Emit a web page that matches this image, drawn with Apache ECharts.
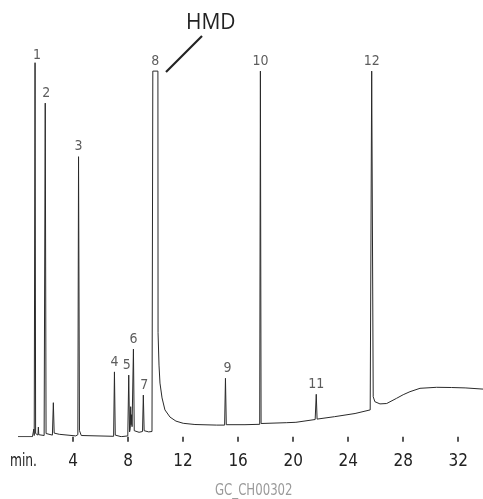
<!DOCTYPE html>
<html>
<head>
<meta charset="utf-8">
<script src="https://cdn.jsdelivr.net/npm/echarts@6/dist/echarts.min.js"></script>
<style>
  html, body { margin: 0; padding: 0; background: #fff; }
  #main { width: 483px; height: 499px; }
</style>
</head>
<body>
<div id="main"></div>
<script>
// retention time (min) / detector signal
var traceTimes = [0.0, 1.05, 1.12, 1.15, 1.18, 1.21, 1.24, 1.28, 1.45, 1.48, 1.51, 1.9, 1.98, 2.04, 2.5, 2.57, 2.63, 3.0,
  4.2, 4.35, 4.40, 4.47, 4.6, 6.95, 7.01, 7.07, 7.5, 7.98, 8.05, 8.11, 8.16, 8.19, 8.22, 8.26, 8.29, 8.34, 8.39, 8.45,
  8.8, 9.05, 9.11, 9.17, 9.5, 9.74, 9.80, 10.17, 10.18, 10.25, 10.32, 10.47, 10.68, 11.05, 11.48, 12.01, 12.86, 14.44,
  15.02, 15.08, 15.14, 16.5, 17.57, 17.62, 17.67, 19.5, 20.2, 20.3, 21.6, 21.68, 21.74, 23.0, 24.5, 25.6, 25.71, 25.82,
  25.94, 26.31, 26.8, 27.52, 28.0, 28.49, 29.22, 30.43, 31.5, 32.5, 33.8];
var traceValues = [0, 0, 0.3, 1.9, 0.3, 0.5, 93.5, 0.8, 0.4, 2.4, 0.5, 0.3, 83.4, 0.8, 0.4, 8.5, 0.9, 0.6,
  0.2, 0.5, 70.0, 1.5, 0.3, 0.1, 16.2, 0.4, 0.0, 0.2, 15.4, 1.2, 2.0, 7.5, 3.0, 5.5, 2.5, 2.0, 21.9, 1.5,
  1.1, 1.3, 10.4, 1.5, 1.2, 1.3, 91.4, 91.4, 26.0, 17.9, 13.4, 9.7, 6.7, 4.9, 3.9, 3.35, 3.05, 2.9,
  2.9, 14.6, 3.0, 3.0, 3.1, 91.4, 3.3, 3.5, 3.6, 4.0, 4.3, 10.6, 4.4, 5.0, 5.8, 6.7, 91.4, 10.0,
  8.75, 8.2, 8.3, 9.6, 10.5, 11.25, 12.1, 12.35, 12.3, 12.2, 11.9];

// numbered peaks
var peakNames = ['1', '2', '3', '4', '5', '6', '7', '8', '9', '10', '11', '12'];
var peakTimes = [1.24, 1.98, 4.40, 7.01, 8.05, 8.39, 9.11, 9.985, 15.08, 17.62, 21.68, 25.71];
var peakHeights = [93.5, 83.4, 70.0, 16.2, 15.4, 21.9, 10.4, 91.4, 14.6, 91.4, 10.6, 91.4];

var tickValues = [4, 8, 12, 16, 20, 24, 28, 32];

var narrow = '"Liberation Sans Narrow", "DejaVu Sans Condensed", sans-serif';
// small nudges so the numbers sit where the print has them
var labelShift = { '1': [2, 3], '2': [1, 0], '5': [-2, 0], '7': [1, 0], '9': [2, 0] };

var trace = traceTimes.map(function (t, i) { return [t, traceValues[i]]; });
var peaks = peakNames.map(function (n, i) {
  var s = labelShift[n] || [0, 0];
  return { value: [peakTimes[i], peakHeights[i]], name: n, label: { offset: s } };
});

var myChart = echarts.init(document.getElementById('main'));

var option = {
  animation: false,
  backgroundColor: '#fff',
  grid: { left: 18, right: 0, top: 36.7, bottom: 62.3 },
  xAxis: {
    type: 'value',
    min: 0,
    max: 33.8,
    interval: 4,
    offset: 9,
    splitLine: { show: false },
    axisLine: { show: false },
    axisTick: { show: true, length: 5, customValues: tickValues, lineStyle: { color: '#222', width: 1.5 } },
    axisLabel: {
      customValues: tickValues,
      margin: 7,
      color: '#222',
      fontSize: 17,
      fontFamily: narrow
    }
  },
  yAxis: {
    type: 'value',
    min: 0,
    max: 100,
    show: false
  },
  series: [
    {
      type: 'line',
      data: trace,
      showSymbol: false,
      smooth: false,
      lineStyle: { color: '#2a2a2a', width: 1 }
    },
    {
      type: 'scatter',
      data: peaks,
      symbolSize: 0,
      label: {
        show: true,
        position: 'top',
        distance: 3,
        formatter: '{b}',
        color: '#333',
        fontSize: 14,
        fontFamily: narrow
      }
    }
  ],
  graphic: [
    { type: 'text', x: 10, y: 453, scaleX: 0.8, style: { text: 'min.', fill: '#222', font: '17px ' + narrow } },
    { type: 'text', left: 186, top: 13, style: { text: 'HMD', fill: '#222', font: '21px "Open Sans", sans-serif' } },
    { type: 'line', shape: { x1: 166, y1: 72, x2: 202, y2: 36 }, style: { stroke: '#222', lineWidth: 2.2 } },
    { type: 'text', x: 215, y: 484, scaleX: 0.87, style: { text: 'GC_CH00302', fill: '#9a9a9a', font: '15px ' + narrow } }
  ]
};

myChart.setOption(option);
</script>
</body>
</html>
